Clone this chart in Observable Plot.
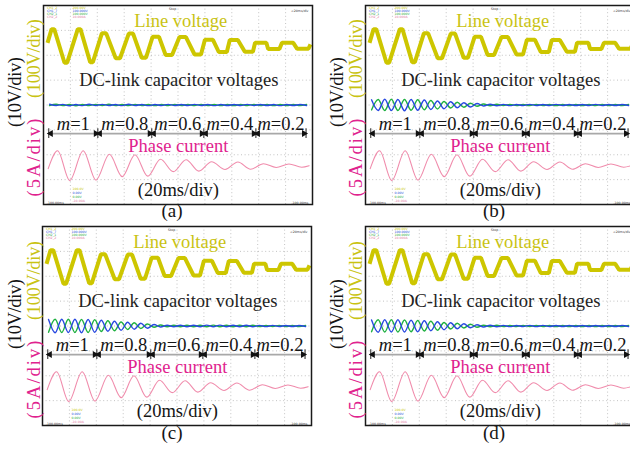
<!DOCTYPE html>
<html>
<head>
<meta charset="utf-8">
<script src="https://cdn.jsdelivr.net/npm/d3@7"></script>
<script src="https://cdn.jsdelivr.net/npm/@observablehq/plot@0.6"></script>
<style>
  html, body { margin: 0; padding: 0; background: #fff; }
  #fig { position: relative; width: 630px; height: 451px; overflow: hidden; background: #fff; }
  #fig .panel { position: absolute; }
  #fig svg.overlay { position: absolute; left: 0; top: 0; pointer-events: none; }
</style>
</head>
<body>
<div id="fig"></div>
<script>
// ---------------------------------------------------------------
// Oscilloscope captures: line voltage, DC-link capacitor voltages
// and phase current while the modulation index steps 1 -> 0.2.
// Time in ms (20 ms/div, 10 div), amplitudes in physical units.
// ---------------------------------------------------------------

// modulation index steps and their boundaries (ms)
const modulationIndex = [1, 0.8, 0.6, 0.4, 0.2];
const segmentEdges = [3.9, 40.4, 80.5, 119.2, 157.9, 195.2];

// line voltage (V): trace start/end and the extremes of each half cycle
const lineStart = [3.0, 12];
const lineEnd = [198.5, 6];
const lineExtremeT = [7, 16.6, 26.5, 35.7, 45, 55.3, 65, 74.6, 83.5, 93.2,
                      103.5, 114.7, 123, 133.3, 141.5, 152.7, 161.5, 171.2, 181.5, 192.8];
const lineExtremeV = [67, -68, 67, -66, 50, -50, 49, -48, 36, -37,
                      35, -35, 24, -25, 23, -24, 12, -13, 12, -12];
// half width (ms) of the flat top of each extreme
const lineFlat = [1.0, 1.0, 1.0, 1.0, 1.6, 1.6, 1.6, 1.6, 2.4, 2.4,
                  2.4, 2.4, 3.0, 3.0, 3.0, 3.0, 4.2, 4.2, 4.2, 4.2];

// phase current (A): start, peaks and troughs, end
const currentT = [3.5, 10.5, 19.5, 29.5, 39, 49, 58.5, 68, 77.5, 87, 96.5,
                  106, 115.5, 125, 135, 144.5, 154, 163.5, 173, 182.5, 192, 197.5];
const currentA = [-0.6, 3.0, -3.0, 3.0, -2.9, 2.3, -2.2, 2.2, -2.1, 1.3, -1.2,
                  1.2, -1.1, 0.8, -0.75, 0.75, -0.7, 0.4, -0.35, 0.35, -0.3, 0];

// DC-link capacitor voltage ripple (V): extremes of each half cycle
const rippleT = [4.5, 9.4, 14.3, 19.2, 24.1, 29.0, 33.9, 38.8, 43.7, 48.6,
                 53.5, 58.4, 63.3, 68.2, 73.1, 78.0, 82.9, 87.8, 92.7, 97.6,
                 102.5, 107.4, 112.3, 117.2, 122.1, 127.0, 131.9, 136.8, 141.7, 146.6,
                 151.5, 156.4, 161.3, 166.2, 171.1, 176.0, 180.9, 185.8, 190.7, 195.6];
const dcBlueA = [0.3, -0.2, 0.25, -0.3, 0.2, -0.25, 0.3, -0.2, 0.25, -0.2,
                 0.2, -0.25, 0.3, -0.2, 0.2, -0.25, 0.2, -0.2, 0.25, -0.2,
                 0.2, -0.2, 0.25, -0.2, 0.2, -0.25, 0.2, -0.2, 0.2, -0.2,
                 0.25, -0.2, 0.2, -0.2, 0.2, -0.25, 0.2, -0.2, 0.2, -0.2];
const dcGreenA = [-0.2, 0.3, -0.25, 0.2, -0.3, 0.2, -0.2, 0.25, -0.2, 0.3,
                  -0.25, 0.2, -0.2, 0.25, -0.2, 0.2, -0.25, 0.2, -0.2, 0.25,
                  -0.2, 0.2, -0.2, 0.25, -0.2, 0.2, -0.25, 0.2, -0.2, 0.2,
                  -0.2, 0.25, -0.2, 0.2, -0.25, 0.2, -0.2, 0.2, -0.2, 0.2];
const dcBlueB = [2.1, -2.2, 2.3, -2.2, 2.2, -2.3, 2.2, -2.1, 2.0, -1.8,
                 1.6, -1.5, 1.3, -1.1, 0.9, -0.8, 0.6, -0.4, 0.3, -0.3,
                 0.25, -0.25, 0.2, -0.2, 0.25, -0.2, 0.2, -0.2, 0.25, -0.2,
                 0.2, -0.2, 0.2, -0.2, 0.25, -0.2, 0.2, -0.2, 0.2, -0.2];
const dcGreenB = [-2.0, 2.2, -2.2, 2.3, -2.2, 2.2, -2.1, 2.1, -1.9, 1.8,
                  -1.6, 1.4, -1.2, 1.1, -0.9, 0.7, -0.5, 0.4, -0.3, 0.3,
                  -0.2, 0.25, -0.2, 0.2, -0.2, 0.25, -0.2, 0.2, -0.2, 0.2,
                  -0.25, 0.2, -0.2, 0.2, -0.2, 0.25, -0.2, 0.2, -0.2, 0.2];
const dcBlueC = [2.6, -2.7, 2.7, -2.6, 2.7, -2.7, 2.6, -2.5, 2.3, -2.1,
                 1.9, -1.7, 1.5, -1.3, 1.1, -0.9, 0.6, -0.4, 0.3, -0.3,
                 0.3, -0.3, 0.3, -0.3, 0.35, -0.3, 0.35, -0.3, 0.3, -0.3,
                 0.3, -0.3, 0.25, -0.25, 0.25, -0.2, 0.2, -0.2, 0.2, -0.2];
const dcGreenC = [-2.5, 2.7, -2.6, 2.7, -2.6, 2.6, -2.6, 2.5, -2.2, 2.1,
                  -1.9, 1.6, -1.4, 1.3, -1.0, 0.8, -0.5, 0.4, -0.3, 0.3,
                  -0.3, 0.3, -0.3, 0.3, -0.3, 0.35, -0.3, 0.3, -0.3, 0.3,
                  -0.3, 0.3, -0.25, 0.25, -0.2, 0.25, -0.2, 0.2, -0.2, 0.2];
const dcBlueD = [2.4, -2.5, 2.5, -2.4, 2.5, -2.4, 2.3, -2.3, 2.1, -1.9,
                 1.7, -1.5, 1.3, -1.1, 0.9, -0.7, 0.5, -0.4, 0.3, -0.3,
                 0.25, -0.25, 0.2, -0.2, 0.25, -0.25, 0.25, -0.2, 0.2, -0.2,
                 0.2, -0.2, 0.2, -0.2, 0.2, -0.2, 0.2, -0.2, 0.2, -0.2];
const dcGreenD = [-2.3, 2.5, -2.4, 2.5, -2.4, 2.4, -2.3, 2.2, -2.0, 1.9,
                  -1.7, 1.4, -1.2, 1.1, -0.8, 0.7, -0.5, 0.3, -0.3, 0.3,
                  -0.25, 0.2, -0.2, 0.25, -0.2, 0.25, -0.2, 0.2, -0.2, 0.2,
                  -0.2, 0.2, -0.2, 0.2, -0.2, 0.2, -0.2, 0.2, -0.2, 0.2];

// screen grid (ms and divisions)
const gridTimes = [20, 40, 60, 80, 100, 120, 140, 160, 180];
const gridDivs = [-3, -2, -1, 0, 1, 2, 3];

// channel readouts printed on the scope screen
const readoutTop1 = ["CH1_2", "CH1_7", "CH2_1", "CH2_2"];
const readoutTop2 = ["200.00V", "100.000V", "100.000V", "10.000A"];
const readoutBottom = ["100.0V", "0.00V", "0.00V", "-10.00A"];
const readoutColors = ["#c8c400", "#2446d8", "#1fa83a", "#e07aa0"];

// ---------------------------------------------------------------
// layout and styling
// ---------------------------------------------------------------
const FONT = "'Liberation Serif', 'Times New Roman', serif";
const C = {
  line: "#cdc600", lineText: "#c9c312", blue: "#2848e0", green: "#1fb040",
  current: "#f08cac", currentText: "#e0228e", ink: "#151515", grid: "#b4b4b4"
};
// vertical position (div) and sensitivity (unit/div) of each channel
const CH = {
  line: {offset: 2.38, perDiv: 100},
  dc: {offset: 0.0, perDiv: 10},
  current: {offset: -2.44, perDiv: 5}
};
const ARROW_Y = -1.15, M_Y = -0.99;
const LABELS = [
  {text: "Line voltage", t: 102, y: 3.13, fill: C.lineText},
  {text: "DC-link capacitor voltages", t: 100.6, y: 0.75, fill: "#222"},
  {text: "Phase current", t: 100.2, y: -1.88, fill: C.currentText},
  {text: "(20ms/div)", t: 100.3, y: -3.67, fill: C.ink}
];
const panels = [
  {caption: "(a)", left: 40.7, top: 3, dx: 0, dy: 0, blue: dcBlueA, green: dcGreenA},
  {caption: "(b)", left: 363, top: 3, dx: 322, dy: 0, blue: dcBlueB, green: dcGreenB},
  {caption: "(c)", left: 40.3, top: 224, dx: 0, dy: 222, blue: dcBlueC, green: dcGreenC},
  {caption: "(d)", left: 363, top: 224, dx: 322, dy: 222, blue: dcBlueD, green: dcGreenD}
];

// ---------------------------------------------------------------
// traces in screen divisions
// ---------------------------------------------------------------
const lineTrace = [{t: lineStart[0], v: lineStart[1]}];
lineExtremeT.forEach((t, i) => {
  lineTrace.push({t: t - lineFlat[i], v: lineExtremeV[i]}, {t: t + lineFlat[i], v: lineExtremeV[i]});
});
lineTrace.push({t: lineEnd[0], v: lineEnd[1]});
lineTrace.forEach(d => d.y = CH.line.offset + d.v / CH.line.perDiv);

const currentTrace = currentT.map((t, i) => ({t, y: CH.current.offset + currentA[i] / CH.current.perDiv}));
const rippleTrace = (vals) => rippleT.map((t, i) => ({t, y: CH.dc.offset + vals[i] / CH.dc.perDiv}));

const segments = modulationIndex.map((m, i) => ({m, t1: segmentEdges[i], t2: segmentEdges[i + 1]}));
const heads = segments.flatMap(s => [{t: s.t1 + 1.5, dir: -90}, {t: s.t2 - 1.5, dir: 90}]);

function readouts() {
  const rowsTop = [3.87, 3.74, 3.61, 3.48], rowsBottom = [-3.40, -3.57, -3.74, -3.91];
  const top1 = readoutTop1.map((s, i) => ({s, t: 2.6, y: rowsTop[i], c: readoutColors[i]}));
  const top2 = readoutTop2.map((s, i) => ({s, t: 21.5, y: rowsTop[i], c: readoutColors[i]}));
  const bot = readoutBottom.map((s, i) => ({s, t: 21.5, y: rowsBottom[i], c: readoutColors[i]}));
  const small = {fontSize: 3.2, fontFamily: "DejaVu Sans", lineAnchor: "bottom"};
  return [
    Plot.text([...top1, ...top2, ...bot], {x: "t", y: "y", text: "s", fill: "c", textAnchor: "start", ...small}),
    Plot.text(["Stop"], {x: 96, y: 3.83, text: d => d, fill: "#333", ...small}),
    Plot.text(["<20ms/div"], {x: 197, y: 3.74, text: d => d, fill: "#333", textAnchor: "end", ...small}),
    Plot.text(["-100.00ms"], {x: 2.4, y: -3.96, text: d => d, fill: "#333", textAnchor: "start", ...small}),
    Plot.text(["-100.00ms"], {x: 197, y: -3.96, text: d => d, fill: "#333", textAnchor: "end", ...small})
  ];
}

function screen(p) {
  return Plot.plot({
    width: 273, height: 203, margin: 2,
    style: {fontFamily: FONT, background: "transparent", overflow: "visible"},
    x: {domain: [0, 200], axis: null},
    y: {domain: [-4, 4], axis: null},
    marks: [
      Plot.ruleX(gridTimes, {stroke: C.grid, strokeWidth: 0.8, strokeDasharray: "1,2.6"}),
      Plot.ruleY(gridDivs, {stroke: C.grid, strokeWidth: 0.8, strokeDasharray: "1,2.6"}),
      ...readouts(),
      Plot.line(lineTrace, {x: "t", y: "y", stroke: C.line, strokeWidth: 4.0, strokeLinejoin: "miter", strokeLinecap: "butt"}),
      Plot.line(rippleTrace(p.green), {x: "t", y: "y", stroke: C.green, strokeWidth: 1.4, curve: "monotone-x"}),
      Plot.line(rippleTrace(p.blue), {x: "t", y: "y", stroke: C.blue, strokeWidth: 1.4, curve: "monotone-x"}),
      Plot.line(currentTrace, {x: "t", y: "y", stroke: C.current, strokeWidth: 1.1, curve: "monotone-x"}),
      Plot.ruleY(segments, {x1: d => d.t1 + 0.8, x2: d => d.t2 - 0.8, y: ARROW_Y, stroke: "#a8a8a8", strokeWidth: 1.6}),
      Plot.ruleX(segmentEdges, {y1: ARROW_Y - 0.2, y2: ARROW_Y + 0.2, stroke: "#333", strokeWidth: 1.1}),
      Plot.dot(heads, {x: "t", y: ARROW_Y, symbol: "triangle", r: 2.6, fill: "#111", stroke: null, rotate: "dir"}),
      Plot.text(segments, {x: d => (d.t1 + d.t2) / 2, y: M_Y, text: d => "m=" + d.m, fontSize: 18.5, fill: C.ink, lineAnchor: "bottom", fontFamily: FONT}),
      Plot.text(LABELS, {x: "t", y: "y", text: "text", fill: "fill", fontSize: 18.5, lineAnchor: "bottom", fontFamily: FONT}),
      Plot.frame({stroke: "#1a1a1a", strokeWidth: 1.5})
    ]
  });
}

const fig = document.getElementById("fig");
panels.forEach(p => {
  const svg = screen(p);
  svg.classList.add("panel");
  svg.style.left = p.left + "px";
  svg.style.top = p.top + "px";
  svg.style.position = "absolute";
  // italic "m" in the modulation index labels
  svg.querySelectorAll("text").forEach(el => {
    const s = el.textContent;
    if (/^m=/.test(s)) {
      el.textContent = "";
      const ns = "http://www.w3.org/2000/svg";
      const a = document.createElementNS(ns, "tspan");
      a.setAttribute("font-style", "italic");
      a.textContent = "m";
      const b = document.createElementNS(ns, "tspan");
      b.textContent = s.slice(1);
      el.append(a, b);
    }
  });
  fig.appendChild(svg);
});

// channel sensitivities beside each screen and the sub-figure captions
const overlay = d3.select(fig).append("svg")
  .attr("class", "overlay").attr("width", 630).attr("height", 451)
  .style("font-family", FONT).style("font-size", "18.5px");
panels.forEach(p => {
  const side = [
    {s: "(10V/div)", x: 15.5, y: 92, len: 70, c: C.ink},
    {s: "(100V/div)", x: 34, y: 58.5, len: 79, c: C.lineText},
    {s: "(5A/div)", x: 34, y: 157.5, len: 78, c: C.currentText}
  ];
  side.forEach(d => {
    overlay.append("text")
      .attr("transform", `translate(${d.x + p.dx},${d.y + p.dy}) rotate(-90)`)
      .attr("text-anchor", "middle").attr("dy", "0.32em")
      .attr("textLength", d.len).attr("lengthAdjust", "spacing")
      .attr("fill", d.c).text(d.s);
  });
  overlay.append("text")
    .attr("x", 172 + p.dx).attr("y", 217 + p.dy)
    .attr("text-anchor", "middle").attr("fill", C.ink)
    .style("font-size", "19px").text(p.caption);
});
</script>
</body>
</html>
